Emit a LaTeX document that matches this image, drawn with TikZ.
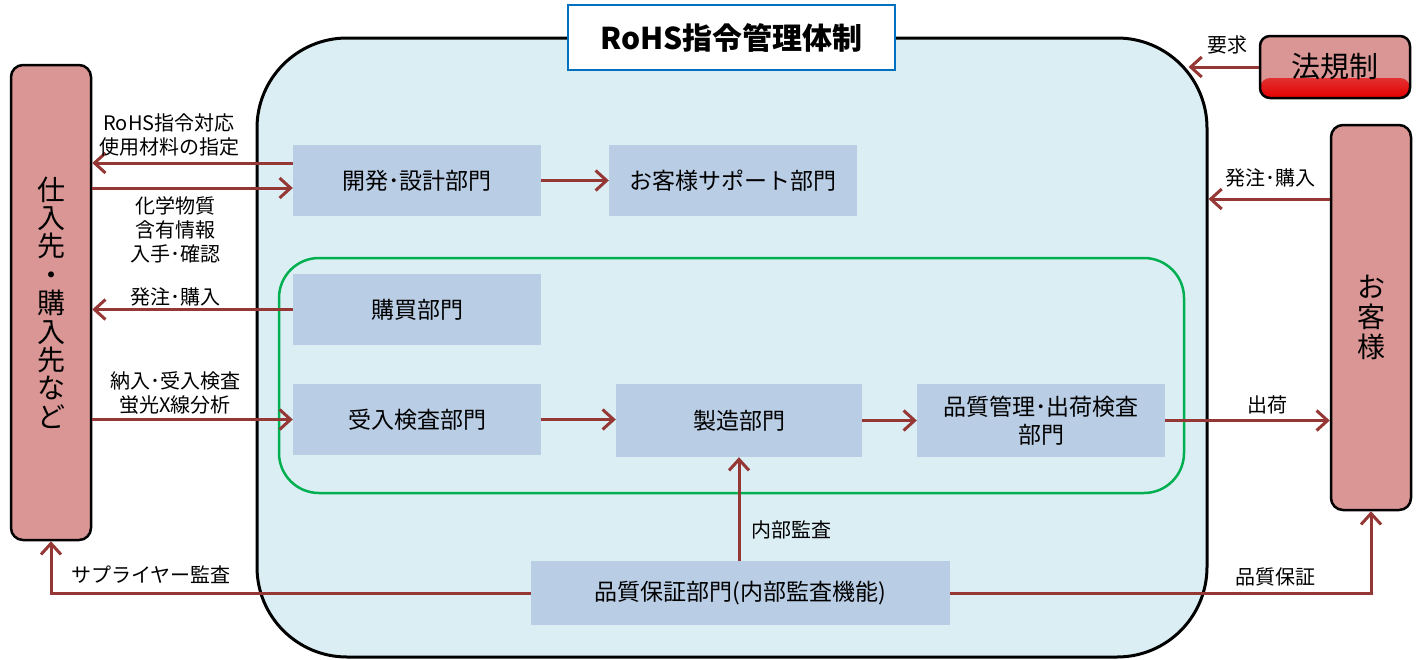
\documentclass[tikz,border=0pt]{standalone}
\usepackage{fontspec}
\newfontfamily\jp{Noto Sans CJK JP}
\usetikzlibrary{arrows.meta}
\definecolor{bigfill}{HTML}{DBEEF4}
\definecolor{deptfill}{HTML}{B9CDE5}
\definecolor{pinkbox}{HTML}{D99694}
\definecolor{arrowred}{HTML}{953735}
\definecolor{grn}{HTML}{00B050}
\definecolor{titleblue}{HTML}{0070C0}
\begin{document}
\begin{tikzpicture}[x=1pt,y=-1pt,
  font=\jp,
  dept/.style={fill=deptfill, draw=none, inner sep=0pt, font=\jp\fontsize{23}{28}\selectfont, align=center},
  party/.style={draw=black, line width=2.5pt, fill=pinkbox, rounded corners=12pt, inner sep=0pt, align=center},
  arr/.style={draw=arrowred, line width=3pt, -{Straight Barb[length=11pt,width=20pt]}},
  lbl/.style={font=\jp\fontsize{20}{24}\selectfont, align=center, inner sep=0pt}
]
\useasboundingbox (0,0) rectangle (1421,659);

% main frame
\node[draw=black, line width=3pt, fill=bigfill, rounded corners=90pt, minimum width=950pt, minimum height=619pt, inner sep=0pt] (big) at (732,347.5) {};
\node[draw=titleblue, line width=2.5pt, fill=white, minimum width=327pt, minimum height=65pt, inner sep=0pt, font=\jp\bfseries\fontsize{30}{30}\selectfont] (title) at (731.5,37.5) {RoHS指令管理体制};
\node[draw=grn, line width=2.5pt, rounded corners=40pt, minimum width=905pt, minimum height=235pt, inner sep=0pt] (grp) at (731.5,375.5) {};

% departments
\node[dept, minimum width=248pt, minimum height=71pt] (K1) at (417,180.5) {開発･設計部門};
\node[dept, minimum width=248pt, minimum height=71pt] (K2) at (733,180.5) {お客様サポート部門};
\node[dept, minimum width=248pt, minimum height=71pt] (P) at (417,309.5) {購買部門};
\node[dept, minimum width=248pt, minimum height=71pt] (R) at (417,419.5) {受入検査部門};
\node[dept, minimum width=246pt, minimum height=73pt] (M) at (739,420.5) {製造部門};
\node[dept, minimum width=248pt, minimum height=73pt] (Q) at (1041,420.5) {品質管理･出荷検査\\部門};
\node[dept, minimum width=419pt, minimum height=64pt] (QA) at (740.5,593) {品質保証部門(内部監査機能)};

% outside parties
\node[party, minimum width=80pt, minimum height=475pt, font=\jp\fontsize{28}{28.4}\selectfont] (L) at (51,302.5) {仕\\入\\先\\・\\購\\入\\先\\な\\ど};
\node[party, minimum width=80pt, minimum height=385pt, font=\jp\fontsize{28}{30}\selectfont] (C) at (1371,317.5) {お\\客\\様};
\node[party, rounded corners=10pt, minimum width=150pt, minimum height=62pt, font=\jp\fontsize{29}{29}\selectfont,
  path picture={\shade[top color=pinkbox, bottom color=red!90!black] ([yshift=20pt]path picture bounding box.south west) rectangle (path picture bounding box.south east);}] (H) at (1335,67) {法規制};

% arrows
\coordinate (a1) at ([yshift=17.5pt]K1.west);
\draw[arr] (a1) -- (a1 -| L.east);
\coordinate (a2) at ([yshift=-7.5pt]K1.west);
\draw[arr] (a2 -| L.east) -- (a2);
\draw[arr] (P.west) -- (P.west -| L.east);
\draw[arr] (R.west -| L.east) -- (R.west);
\draw[arr] (K1.east) -- (K2.west);
\draw[arr] (R.east) -- (R.east -| M.west);
\draw[arr] (M.east) -- (Q.west);
\draw[arr] (Q.east) -- (Q.east -| C.west);
\draw[arr] (M.south |- QA.north) -- (M.south);
\draw[arr] (QA.west) -- (QA.west -| L.south) -- (L.south);
\draw[arr] (QA.east) -- (QA.east -| C.south) -- (C.south);
\coordinate (c1) at ([yshift=118.5pt]C.west);
\draw[arr] (c1) -- (c1 -| big.east);
\path (big.north east |- H.west) ++(-20,0) coordinate (h1);
\draw[arr] (H.west) -- (h1);

% labels
\node[lbl] (t1) at (169,134.5) {RoHS指令対応\\使用材料の指定};
\node[lbl] (t2) at (175,230) {化学物質\\含有情報\\入手･確認};
\node[lbl] (t3) at (175,297) {発注･購入};
\node[lbl] (t4) at (175,393.5) {納入･受入検査\\蛍光X線分析};
\node[lbl] (t5) at (151,575) {サプライヤー監査};
\node[lbl] (t6) at (1275,577) {品質保証};
\node[lbl] (t7) at (1267,405) {出荷};
\node[lbl] (t8) at (1270,178) {発注･購入};
\node[lbl] (t9) at (1227,45) {要求};
\node[lbl] (t10) at (791,530) {内部監査};
\end{tikzpicture}
\end{document}
